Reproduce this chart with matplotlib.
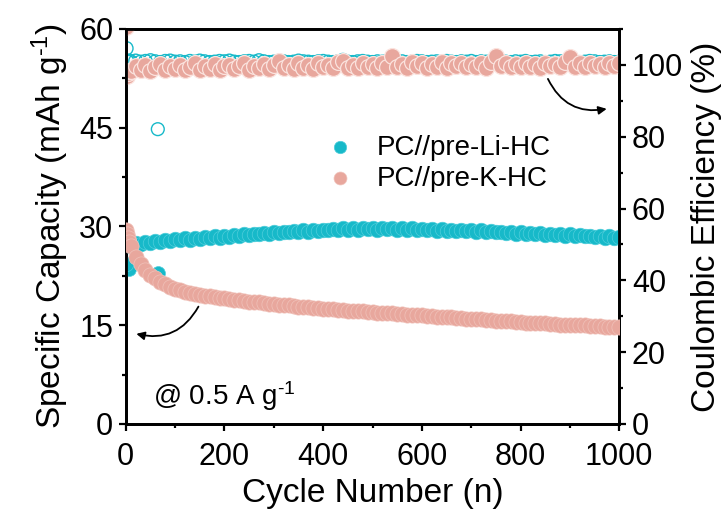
import matplotlib
matplotlib.use('Agg')
import matplotlib.pyplot as plt
from matplotlib.ticker import MultipleLocator

plt.rcParams['font.family'] = ['Liberation Sans', 'DejaVu Sans']
plt.rcParams['mathtext.fontset'] = 'custom'
plt.rcParams['mathtext.rm'] = 'Liberation Sans'
plt.rcParams['mathtext.default'] = 'regular'

# first few cycles, then every 10th cycle
head_cycles = [1, 3, 5, 7]
cycles = head_cycles + list(range(10, 1001, 10))

li_cap = [24.3, 27.0, 27.1, 27.2,
          27.3, 27.5, 27.4, 27.7, 27.5, 27.8, 27.7, 27.9, 27.8, 28.1,
          27.9, 28.2, 28.0, 28.3, 28.1, 28.4, 28.2, 28.5, 28.3, 28.6,
          28.4, 28.7, 28.5, 28.8, 28.7, 28.9, 28.8, 29.0, 28.9, 29.1,
          29.0, 29.2, 29.1, 29.3, 29.2, 29.4, 29.2, 29.5, 29.3, 29.5,
          29.4, 29.6, 29.5, 29.7, 29.5, 29.7, 29.5, 29.7, 29.6, 29.8,
          29.5, 29.7, 29.6, 29.8, 29.5, 29.7, 29.5, 29.7, 29.4, 29.6,
          29.4, 29.6, 29.3, 29.6, 29.3, 29.5, 29.3, 29.4, 29.3, 29.4,
          29.2, 29.4, 29.1, 29.3, 29.1, 29.2, 29.0, 29.2, 28.9, 29.1,
          28.9, 29.0, 28.8, 29.0, 28.7, 28.9, 28.7, 28.8, 28.6, 28.8,
          28.5, 28.7, 28.5, 28.6, 28.4, 28.6, 28.3, 28.5, 28.3, 28.4]

k_cap = [29.5, 28.8, 28.2, 27.6,
         27.0, 25.4, 24.3, 23.4, 22.7, 22.1, 21.6, 21.2, 20.8, 20.5,
         20.3, 20.1, 19.9, 19.8, 19.6, 19.5, 19.4, 19.3, 19.2, 19.1,
         19.0, 18.9, 18.8, 18.7, 18.6, 18.5, 18.5, 18.4, 18.3, 18.2,
         18.1, 18.0, 18.0, 17.9, 17.8, 17.8, 17.7, 17.6, 17.6, 17.5,
         17.5, 17.4, 17.3, 17.3, 17.2, 17.2, 17.1, 17.1, 17.0, 17.0,
         16.9, 16.9, 16.8, 16.8, 16.7, 16.7, 16.6, 16.6, 16.5, 16.5,
         16.4, 16.4, 16.3, 16.3, 16.2, 16.2, 16.1, 16.1, 16.0, 16.0,
         15.9, 15.9, 15.8, 15.8, 15.7, 15.7, 15.6, 15.6, 15.5, 15.5,
         15.4, 15.4, 15.3, 15.3, 15.3, 15.2, 15.2, 15.1, 15.1, 15.1,
         15.0, 15.0, 15.0, 14.9, 14.9, 14.9, 14.8, 14.8, 14.8, 14.7]

li_ce = [104.6, 100.9, 101.1, 101.0,
         100.9, 101.1, 100.8, 101.0, 101.2, 100.9, 100.7, 101.0, 101.1, 100.8,
         100.9, 100.7, 101.0, 100.8, 101.1, 100.9, 100.7, 100.8, 101.0, 100.9,
         101.1, 100.8, 100.7, 100.9, 101.0, 100.8, 101.2, 100.9, 100.7, 100.8,
         101.0, 100.9, 100.7, 100.8, 101.1, 100.9, 100.8, 100.7, 100.9, 101.0,
         100.8, 100.7, 100.9, 101.3, 100.8, 100.7, 100.9, 101.0, 100.8, 100.7,
         100.9, 100.8, 101.0, 100.7, 100.8, 100.9, 100.7, 100.8, 101.0, 100.9,
         100.7, 100.8, 100.9, 100.7, 101.0, 100.8, 100.7, 100.9, 100.8, 101.0,
         100.7, 100.9, 100.8, 100.7, 101.1, 100.9, 100.8, 100.7, 100.9, 100.8,
         101.0, 100.7, 100.8, 100.9, 100.7, 100.8, 101.0, 100.9, 100.7, 100.8,
         100.9, 100.7, 100.8, 101.0, 100.9, 100.7, 100.8, 100.9, 100.7, 100.8]

k_ce = [110.5, 97.0, 97.8, 98.3,
        98.2, 99.6, 98.6, 100.0, 98.4, 99.4, 100.3, 98.5, 99.7, 98.8,
        99.9, 98.6, 99.5, 100.4, 98.5, 99.8, 98.9, 100.2, 98.6, 99.6,
        100.1, 98.8, 99.7, 100.5, 98.6, 99.8, 99.0, 100.2, 98.9, 99.9,
        101.2, 99.1, 100.0, 98.8, 100.6, 99.2, 100.1, 98.9, 100.4, 99.3,
        100.0, 99.0, 100.7, 101.0, 99.1, 100.1, 99.2, 100.5, 99.4, 100.2,
        99.0, 100.6, 99.5, 102.6, 99.3, 100.3, 99.1, 100.8, 99.6, 100.4,
        99.2, 100.2, 99.4, 100.7, 99.1, 100.4, 99.6, 100.6, 99.3, 100.3,
        99.5, 100.5, 99.2, 100.8, 102.4, 99.7, 100.4, 99.3, 100.2, 99.5,
        100.6, 99.4, 100.3, 99.2, 100.5, 99.6, 100.2, 99.3, 100.7, 102.2,
        99.5, 100.4, 99.4, 100.6, 99.7, 100.3, 99.3, 100.5, 99.6, 100.4]

# odd Li cycles that fall off the trend
li_cap_out_cycles = [6, 65]
li_cap_out = [23.6, 22.9]
li_ce_out_cycles = [65]
li_ce_out = [82.1]

cyan = '#17b9c9'
pink = '#e8a79d'

fig = plt.figure(figsize=(7.28, 5.13), dpi=100)
ax = fig.add_axes([0.1727, 0.1735, 0.678, 0.770])
ax2 = ax.twinx()

# efficiency (right axis)
ax2.scatter(cycles, li_ce, s=95, facecolor='none', edgecolor=cyan, lw=1.0, zorder=2)
ax2.scatter(li_ce_out_cycles, li_ce_out, s=85, facecolor='none', edgecolor=cyan, lw=1.0, zorder=2)
ax2.scatter(cycles, k_ce, s=130, facecolor=pink, edgecolor='#fbe3de', lw=0.9, zorder=3)

# capacity (left axis), drawn above the twin
ax.set_zorder(ax2.get_zorder() + 1)
ax.patch.set_visible(False)
ax.scatter(li_cap_out_cycles, li_cap_out, s=100, color=cyan, edgecolor='#4fcedb', lw=0.5, zorder=2)
ax.scatter(cycles, li_cap, s=110, color=cyan, edgecolor='#4fcedb', lw=0.5, zorder=2,
           label='PC//pre-Li-HC')
ax.scatter(cycles, k_cap, s=120, color=pink, edgecolor='#f0c2ba', lw=0.5, zorder=3,
           label='PC//pre-K-HC')

ax.set_xlim(0, 1000)
ax.set_ylim(0, 60)
ax2.set_ylim(0, 110)
ax.xaxis.set_major_locator(MultipleLocator(200))
ax.xaxis.set_minor_locator(MultipleLocator(100))
ax.yaxis.set_major_locator(MultipleLocator(15))
ax.yaxis.set_minor_locator(MultipleLocator(7.5))
ax2.yaxis.set_major_locator(MultipleLocator(20))
ax2.yaxis.set_minor_locator(MultipleLocator(10))

for a in (ax, ax2):
    for sp in a.spines.values():
        sp.set_linewidth(2)
    a.tick_params(which='major', length=5, width=1.6, labelsize=22, direction='out')
    a.tick_params(which='minor', length=3, width=1.6, direction='out')
ax.tick_params(axis='y', pad=4)
ax.tick_params(axis='x', pad=8)
ax2.tick_params(axis='y', pad=4)

ax.set_xlabel('Cycle Number (n)', fontsize=24, labelpad=4)
ax.set_ylabel(r'Specific Capacity (mAh g$^{\text{-}1}$)', fontsize=24, labelpad=6)
ax2.set_ylabel('Coulombic Efficiency (%)', fontsize=24, labelpad=6)

ax.legend(loc='center left', bbox_to_anchor=(0.35, 0.66), frameon=False, fontsize=20,
          handletextpad=0.3, labelspacing=0.18, borderpad=0, markerscale=0.85)

ax.text(0.055, 0.07, r'@ 0.5 A g$^{\text{-}1}$', transform=ax.transAxes, fontsize=20, va='center')

# arrows pointing to the matching axis
ax.annotate('', xy=(16, 13.8), xytext=(150, 18.2),
            arrowprops=dict(arrowstyle='-|>', color='black', lw=1.3,
                            connectionstyle='arc3,rad=-0.4', mutation_scale=12))
ax2.annotate('', xy=(980, 87.9), xytext=(853, 96.8),
             arrowprops=dict(arrowstyle='-|>', color='black', lw=1.3,
                             connectionstyle='arc3,rad=0.4', mutation_scale=12))

fig.savefig('out.png', dpi=100)
